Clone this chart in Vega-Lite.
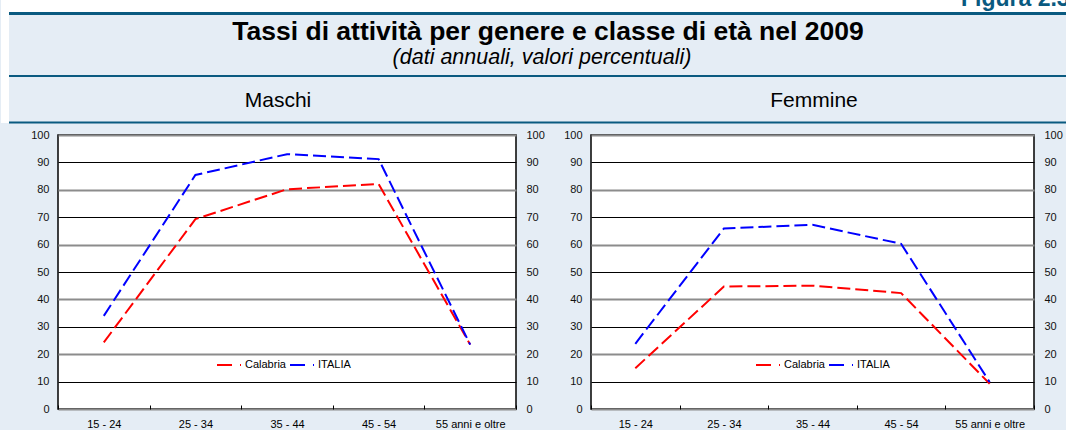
{
  "$schema": "https://vega.github.io/schema/vega-lite/v6.json",
  "background": "#e5edf5",
  "padding": 0,
  "spacing": 4,
  "config": {
    "font": "Liberation Sans",
    "view": {"stroke": null},
    "axis": {"labelFont": "Liberation Sans", "labelFontSize": 11, "labelColor": "#111111", "title": null},
    "legend": {"labelFont": "Liberation Sans"}
  },
  "datasets": {
    "tassi": [
      {"genere": "Maschi", "serie": "Calabria", "eta": "15 - 24", "valore": 24.3},
      {"genere": "Maschi", "serie": "Calabria", "eta": "25 - 34", "valore": 69.3},
      {"genere": "Maschi", "serie": "Calabria", "eta": "35 - 44", "valore": 80.2},
      {"genere": "Maschi", "serie": "Calabria", "eta": "45 - 54", "valore": 82.1},
      {"genere": "Maschi", "serie": "Calabria", "eta": "55 anni e oltre", "valore": 23.5},
      {"genere": "Maschi", "serie": "ITALIA", "eta": "15 - 24", "valore": 34.0},
      {"genere": "Maschi", "serie": "ITALIA", "eta": "25 - 34", "valore": 85.4},
      {"genere": "Maschi", "serie": "ITALIA", "eta": "35 - 44", "valore": 93.0},
      {"genere": "Maschi", "serie": "ITALIA", "eta": "45 - 54", "valore": 91.2},
      {"genere": "Maschi", "serie": "ITALIA", "eta": "55 anni e oltre", "valore": 23.5},
      {"genere": "Femmine", "serie": "Calabria", "eta": "15 - 24", "valore": 14.9},
      {"genere": "Femmine", "serie": "Calabria", "eta": "25 - 34", "valore": 44.7},
      {"genere": "Femmine", "serie": "Calabria", "eta": "35 - 44", "valore": 45.0},
      {"genere": "Femmine", "serie": "Calabria", "eta": "45 - 54", "valore": 42.3},
      {"genere": "Femmine", "serie": "Calabria", "eta": "55 anni e oltre", "valore": 9.2},
      {"genere": "Femmine", "serie": "ITALIA", "eta": "15 - 24", "valore": 23.8},
      {"genere": "Femmine", "serie": "ITALIA", "eta": "25 - 34", "valore": 65.9},
      {"genere": "Femmine", "serie": "ITALIA", "eta": "35 - 44", "valore": 67.2},
      {"genere": "Femmine", "serie": "ITALIA", "eta": "45 - 54", "valore": 60.3},
      {"genere": "Femmine", "serie": "ITALIA", "eta": "55 anni e oltre", "valore": 9.8}
    ]
  },
  "vconcat": [
    {
      "width": 1009,
      "height": 123,
      "view": {"stroke": null},
      "layer": [
        {
          "data": {"values": [{"zona": "intestazione"}]},
          "mark": {"type": "rect", "color": "#ffffff"},
          "encoding": {
            "x": {"datum": 0, "type": "quantitative", "scale": {"domain": [57, 1066]}, "axis": null},
            "x2": {"datum": 1066},
            "y": {"datum": 0, "type": "quantitative", "scale": {"domain": [123, 0]}, "axis": null},
            "y2": {"datum": 12}
          }
        },
        {
          "data": {"values": [{"zona": "margine"}]},
          "mark": {"type": "rect", "color": "#ffffff"},
          "encoding": {
            "x": {"datum": 0, "type": "quantitative", "scale": {"domain": [57, 1066]}, "axis": null},
            "x2": {"datum": 8},
            "y": {"datum": 0, "type": "quantitative", "scale": {"domain": [123, 0]}, "axis": null},
            "y2": {"datum": 123}
          }
        },
        {
          "data": {"values": [{"t": "Figura 2.3"}]},
          "mark": {"type": "text", "clip": true, "fontSize": 23, "fontWeight": "bold", "color": "#0a5a80", "align": "left", "baseline": "alphabetic"},
          "encoding": {
            "text": {"field": "t"},
            "x": {"datum": 960, "type": "quantitative", "scale": {"domain": [57, 1066]}, "axis": null},
            "y": {"datum": 6, "type": "quantitative", "scale": {"domain": [123, 0]}, "axis": null}
          }
        },
        {
          "data": {"values": [{"r": "linea"}]},
          "mark": {"type": "rule", "color": "#0a5a80", "strokeWidth": 3},
          "encoding": {
            "x": {"datum": 8, "type": "quantitative", "scale": {"domain": [57, 1066]}, "axis": null},
            "x2": {"datum": 1066},
            "y": {"datum": 13.5, "type": "quantitative", "scale": {"domain": [123, 0]}, "axis": null}
          }
        },
        {
          "data": {"values": [{"r": "linea"}]},
          "mark": {"type": "rule", "color": "#0a5a80", "strokeWidth": 2},
          "encoding": {
            "x": {"datum": 8, "type": "quantitative", "scale": {"domain": [57, 1066]}, "axis": null},
            "x2": {"datum": 1066},
            "y": {"datum": 76, "type": "quantitative", "scale": {"domain": [123, 0]}, "axis": null}
          }
        },
        {
          "data": {"values": [{"r": "linea"}]},
          "mark": {"type": "rule", "color": "#0a5a80", "strokeWidth": 2},
          "encoding": {
            "x": {"datum": 8, "type": "quantitative", "scale": {"domain": [57, 1066]}, "axis": null},
            "x2": {"datum": 1066},
            "y": {"datum": 122.5, "type": "quantitative", "scale": {"domain": [123, 0]}, "axis": null}
          }
        },
        {
          "data": {"values": [{"t": "Tassi di attività per genere e classe di età nel 2009"}]},
          "mark": {"type": "text", "fontSize": 26.5, "fontWeight": "bold", "color": "#000000", "align": "center", "baseline": "alphabetic"},
          "encoding": {
            "text": {"field": "t"},
            "x": {"datum": 547, "type": "quantitative", "scale": {"domain": [57, 1066]}, "axis": null},
            "y": {"datum": 40, "type": "quantitative", "scale": {"domain": [123, 0]}, "axis": null}
          }
        },
        {
          "data": {"values": [{"t": "(dati annuali, valori percentuali)"}]},
          "mark": {"type": "text", "fontSize": 21.5, "fontStyle": "italic", "color": "#000000", "align": "center", "baseline": "alphabetic"},
          "encoding": {
            "text": {"field": "t"},
            "x": {"datum": 541, "type": "quantitative", "scale": {"domain": [57, 1066]}, "axis": null},
            "y": {"datum": 63.5, "type": "quantitative", "scale": {"domain": [123, 0]}, "axis": null}
          }
        },
        {
          "data": {"values": [{"t": "Maschi", "p": 277}, {"t": "Femmine", "p": 813}]},
          "mark": {"type": "text", "fontSize": 21, "color": "#000000", "align": "center", "baseline": "alphabetic"},
          "encoding": {
            "text": {"field": "t"},
            "x": {"field": "p", "type": "quantitative", "scale": {"domain": [57, 1066]}, "axis": null},
            "y": {"datum": 107, "type": "quantitative", "scale": {"domain": [123, 0]}, "axis": null}
          }
        }
      ]
    },
    {
      "hconcat": [
        {
          "width": 458,
          "height": 274,
          "view": {"fill": "#ffffff", "stroke": "#000000", "strokeWidth": 1.5},
          "data": {"name": "tassi"},
          "transform": [{"filter": "datum.genere === 'Maschi'"}],
          "encoding": {
            "x": {
              "field": "eta", "type": "ordinal", "bandPosition": 0.5,
              "sort": ["15 - 24", "25 - 34", "35 - 44", "45 - 54", "55 anni e oltre"],
              "scale": {"type": "band", "paddingInner": 0, "paddingOuter": 0},
              "axis": {"labelAngle": 0, "tickBand": "extent", "tickSize": -4, "tickColor": "#000000", "domain": false, "labelPadding": 13, "grid": false, "labelColor": "#000000"}
            }
          },
          "layer": [
            {
              "mark": {"type": "line", "strokeWidth": 2, "strokeDash": [13, 5]},
              "encoding": {
                "y": {
                  "field": "valore", "type": "quantitative",
                  "scale": {"domain": [0, 100], "nice": false},
                  "axis": {"orient": "left", "values": [0, 10, 20, 30, 40, 50, 60, 70, 80, 90, 100], "ticks": false, "domain": false, "labelPadding": 9, "grid": true,
                    "gridColor": {"condition": {"test": "datum.value % 20 === 0", "value": "#8c8c8c"}, "value": "#000000"},
                    "gridWidth": {"condition": {"test": "datum.value % 20 === 0", "value": 2}, "value": 1},
                    "gridOpacity": 1, "minExtent": 57}
                },
                "color": {
                  "field": "serie", "type": "nominal",
                  "scale": {"domain": ["Calabria", "ITALIA"], "range": ["#ff0000", "#0000ff"]},
                  "legend": {"orient": "none", "legendX": 158, "legendY": 217, "direction": "horizontal", "title": null, "symbolType": "stroke", "symbolStrokeWidth": 2, "symbolDash": [15, 8], "symbolSize": 576, "labelFontSize": 11, "labelOffset": 3, "columnPadding": 0, "labelColor": "#000000", "padding": 0}
                }
              }
            },
            {
              "mark": {"type": "line", "opacity": 0},
              "encoding": {
                "detail": {"field": "serie"},
                "y": {
                  "field": "valore", "type": "quantitative",
                  "axis": {"orient": "right", "values": [0, 10, 20, 30, 40, 50, 60, 70, 80, 90, 100], "ticks": false, "domain": false, "labelPadding": 10, "grid": false}
                }
              }
            }
          ],
          "resolve": {"axis": {"y": "independent"}}
        },
        {
          "width": 443,
          "height": 274,
          "view": {"fill": "#ffffff", "stroke": "#000000", "strokeWidth": 1.5},
          "data": {"name": "tassi"},
          "transform": [{"filter": "datum.genere === 'Femmine'"}],
          "encoding": {
            "x": {
              "field": "eta", "type": "ordinal", "bandPosition": 0.5,
              "sort": ["15 - 24", "25 - 34", "35 - 44", "45 - 54", "55 anni e oltre"],
              "scale": {"type": "band", "paddingInner": 0, "paddingOuter": 0},
              "axis": {"labelAngle": 0, "tickBand": "extent", "tickSize": -4, "tickColor": "#000000", "domain": false, "labelPadding": 13, "grid": false, "labelColor": "#000000"}
            }
          },
          "layer": [
            {
              "mark": {"type": "line", "strokeWidth": 2, "strokeDash": [13, 5]},
              "encoding": {
                "y": {
                  "field": "valore", "type": "quantitative",
                  "scale": {"domain": [0, 100], "nice": false},
                  "axis": {"orient": "left", "values": [0, 10, 20, 30, 40, 50, 60, 70, 80, 90, 100], "ticks": false, "domain": false, "labelPadding": 9, "grid": true,
                    "gridColor": {"condition": {"test": "datum.value % 20 === 0", "value": "#8c8c8c"}, "value": "#000000"},
                    "gridWidth": {"condition": {"test": "datum.value % 20 === 0", "value": 2}, "value": 1},
                    "gridOpacity": 1}
                },
                "color": {
                  "field": "serie", "type": "nominal",
                  "scale": {"domain": ["Calabria", "ITALIA"], "range": ["#ff0000", "#0000ff"]},
                  "legend": {"orient": "none", "legendX": 164, "legendY": 217, "direction": "horizontal", "title": null, "symbolType": "stroke", "symbolStrokeWidth": 2, "symbolDash": [15, 8], "symbolSize": 576, "labelFontSize": 11, "labelOffset": 3, "columnPadding": 0, "labelColor": "#000000", "padding": 0}
                }
              }
            },
            {
              "mark": {"type": "line", "opacity": 0},
              "encoding": {
                "detail": {"field": "serie"},
                "y": {
                  "field": "valore", "type": "quantitative",
                  "axis": {"orient": "right", "values": [0, 10, 20, 30, 40, 50, 60, 70, 80, 90, 100], "ticks": false, "domain": false, "labelPadding": 10, "grid": false}
                }
              }
            }
          ],
          "resolve": {"axis": {"y": "independent"}}
        }
      ],
      "spacing": 16,
      "resolve": {"scale": {"color": "independent", "x": "independent", "y": "independent"}, "legend": {"color": "independent"}}
    }
  ]
}
